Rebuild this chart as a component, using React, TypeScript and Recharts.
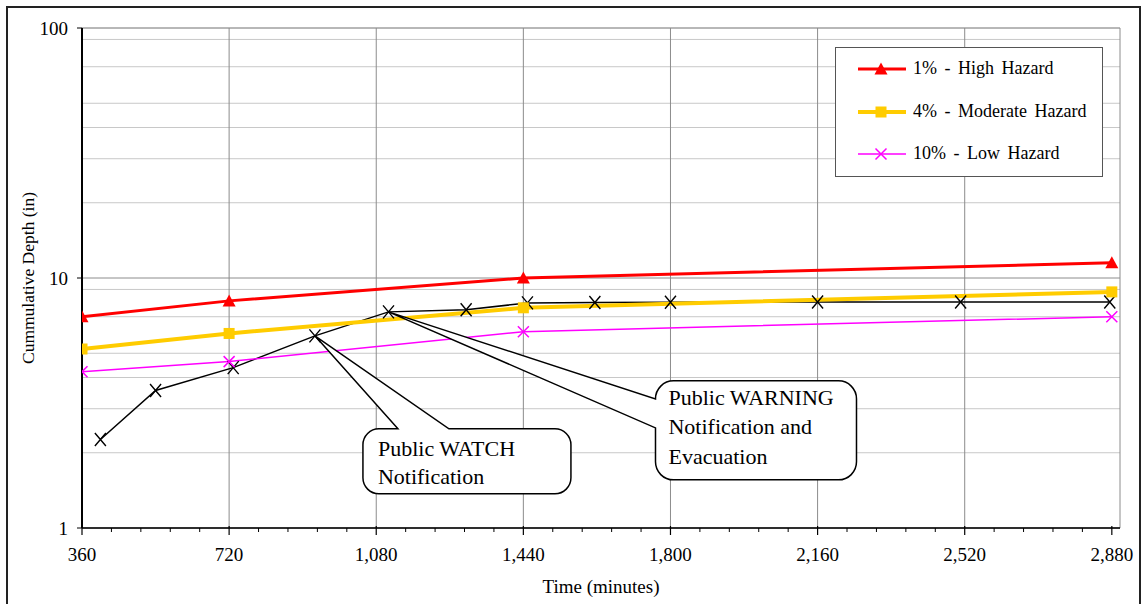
import React from 'react';
import { LineChart, Line, XAxis, YAxis, CartesianGrid, ReferenceDot, Legend } from 'recharts';

// ---- data ----
const hazardTimes = [360, 720, 1440, 2880];
const highHazard = [7.0, 8.1, 10.0, 11.5];
const moderateHazard = [5.2, 6.0, 7.6, 8.8];
const lowHazard = [4.22, 4.63, 6.1, 7.0];

const observedTimes = [405, 540, 730, 930, 1110, 1300, 1450, 1615, 1800, 2160, 2510, 2875];
const observedDepth = [2.26, 3.55, 4.38, 5.87, 7.32, 7.46, 7.95, 7.98, 8.0, 8.02, 8.02, 8.02];

const xMajorTicks = [360, 720, 1080, 1440, 1800, 2160, 2520, 2880];
const xDomainMax = 2900;
const yTicks = [1, 10, 100];
const yMinorGrid = [2, 3, 4, 5, 6, 7, 8, 9, 20, 30, 40, 50, 60, 70, 80, 90];

const seriesNames = ['1% - High Hazard', '4% - Moderate Hazard', '10% - Low Hazard'];
const watchNote = ['Public WATCH', 'Notification'];
const warningNote = ['Public WARNING', 'Notification and', 'Evacuation'];
const watchIndex = 3;
const warningIndex = 4;

const FONT = '"Liberation Serif", "Times New Roman", serif';

const toPoints = (ts: number[], vs: number[]) => ts.map((t, i) => ({ t, v: vs[i] }));
const highData = toPoints(hazardTimes, highHazard);
const modData = toPoints(hazardTimes, moderateHazard);
const lowData = toPoints(hazardTimes, lowHazard);
const obsData = toPoints(observedTimes, observedDepth);

const minorStep = (xMajorTicks[1] - xMajorTicks[0]) / 5;
const xAllTicks: number[] = [];
xMajorTicks.forEach((m, i) => {
  xAllTicks.push(m);
  if (i < xMajorTicks.length - 1) {
    for (let k = 1; k < 5; k++) xAllTicks.push(m + k * minorStep);
  }
});
const gridXTicks = [...xMajorTicks, xDomainMax];

// ---- markers ----
const Triangle = ({ cx, cy, color, s = 6.5 }: any) => (
  <path d={`M${cx},${cy - s} L${cx + s},${cy + s - 1} L${cx - s},${cy + s - 1} Z`} fill={color} />
);
const Square = ({ cx, cy, color, s = 5.5 }: any) => (
  <rect x={cx - s} y={cy - s} width={2 * s} height={2 * s} fill={color} />
);
const Cross = ({ cx, cy, color, w = 5, h = 5, sw = 1.5 }: any) => (
  <path
    d={`M${cx - w},${cy - h} L${cx + w},${cy + h} M${cx + w},${cy - h} L${cx - w},${cy + h}`}
    stroke={color}
    strokeWidth={sw}
    fill="none"
  />
);

const legendItems = [
  { name: seriesNames[0], color: '#FF0000', width: 3, marker: 'tri' },
  { name: seriesNames[1], color: '#FFCC00', width: 4, marker: 'sq' },
  { name: seriesNames[2], color: '#FF00FF', width: 1.5, marker: 'x' },
];

const LegendBox = () => (
  <div
    style={{
      width: 268,
      height: 130,
      boxSizing: 'border-box',
      border: '1px solid #555',
      background: '#fff',
      position: 'relative',
      fontFamily: FONT,
      fontSize: 18,
      color: '#000',
    }}
  >
    {legendItems.map((it, i) => (
      <div key={it.name} style={{ position: 'absolute', left: 0, top: 21 + i * 42.5 - 15, height: 30, width: 268 }}>
        <svg width={80} height={30} style={{ position: 'absolute', left: 0, top: 0 }}>
          <line x1={22} x2={70} y1={15} y2={15} stroke={it.color} strokeWidth={it.width} />
          {it.marker === 'tri' && <Triangle cx={45} cy={15} color={it.color} />}
          {it.marker === 'sq' && <Square cx={45} cy={15} color={it.color} />}
          {it.marker === 'x' && <Cross cx={45} cy={15} color={it.color} w={5.5} h={5.5} />}
        </svg>
        <span style={{ position: 'absolute', left: 77, top: 4, whiteSpace: 'pre', wordSpacing: 3 }}>{it.name}</span>
      </div>
    ))}
  </div>
);

// ---- callouts ----
const WatchCallout = ({ cx, cy }: any) => {
  if (cx == null || cy == null) return null;
  const L = cx + 48, R = cx + 256, T = cy + 93, B = cy + 158, r = 16;
  const w1 = cx + 83, w2 = cx + 134;
  const d = `M${L + r},${T} L${w1},${T} L${cx},${cy} L${w2},${T} L${R - r},${T} A${r},${r} 0 0 1 ${R},${T + r} L${R},${B - r} A${r},${r} 0 0 1 ${R - r},${B} L${L + r},${B} A${r},${r} 0 0 1 ${L},${B - r} L${L},${T + r} A${r},${r} 0 0 1 ${L + r},${T} Z`;
  return (
    <g>
      <path d={d} fill="#fff" stroke="#000" strokeWidth={1.5} />
      {watchNote.map((s, i) => (
        <text key={i} x={cx + 63} y={cy + 120 + i * 28} fontFamily={FONT} fontSize={22} fill="#000">
          {s}
        </text>
      ))}
    </g>
  );
};

const WarningCallout = ({ cx, cy }: any) => {
  if (cx == null || cy == null) return null;
  const L = cx + 267, R = cx + 468, T = cy + 69, B = cy + 168, r = 18;
  const w1 = cy + 87, w2 = cy + 116;
  const d = `M${L + r},${T} L${R - r},${T} A${r},${r} 0 0 1 ${R},${T + r} L${R},${B - r} A${r},${r} 0 0 1 ${R - r},${B} L${L + r},${B} A${r},${r} 0 0 1 ${L},${B - r} L${L},${w2} L${cx},${cy} L${L},${w1} L${L},${T + r} A${r},${r} 0 0 1 ${L + r},${T} Z`;
  return (
    <g>
      <path d={d} fill="#fff" stroke="#000" strokeWidth={1.5} />
      {warningNote.map((s, i) => (
        <text key={i} x={cx + 280} y={cy + 93 + i * 29.5} fontFamily={FONT} fontSize={22} fill="#000">
          {s}
        </text>
      ))}
    </g>
  );
};

// ---- axis ticks ----
const XTick = ({ x, y, payload }: any) => {
  const v = payload.value;
  const major = xMajorTicks.includes(v);
  return (
    <g>
      {major ? (
        <line x1={x} x2={x} y1={y - 2} y2={y + 7} stroke="#000" strokeWidth={1.2} />
      ) : (
        <line x1={x} x2={x} y1={y} y2={y + 4} stroke="#000" strokeWidth={1} />
      )}
      {major && (
        <text x={x} y={y + 33} textAnchor="middle" fontFamily={FONT} fontSize={19} fill="#000">
          {v.toLocaleString('en-US')}
        </text>
      )}
    </g>
  );
};

export default function App() {
  return (
    <div
      style={{
        position: 'absolute',
        left: 6,
        top: 6,
        width: 1135,
        height: 600,
        boxSizing: 'border-box',
        border: '2px solid #222',
        background: '#fff',
      }}
    >
      <LineChart width={1131} height={596} margin={{ top: 20, right: 19, bottom: 0, left: 0 }}>
        <XAxis xAxisId="grid" dataKey="t" type="number" domain={[xMajorTicks[0], xDomainMax]} ticks={gridXTicks} hide allowDataOverflow />
        <YAxis yAxisId="minor" type="number" scale="log" domain={[yTicks[0], yTicks[yTicks.length - 1]]} ticks={yMinorGrid} hide allowDataOverflow />
        <CartesianGrid xAxisId="grid" yAxisId="minor" horizontal={true} vertical={false} stroke="#c8c8c8" strokeWidth={1} />
        <CartesianGrid xAxisId="grid" yAxisId={0} horizontal={true} vertical={true} stroke="#8c8c8c" strokeWidth={1} />
        <XAxis
          dataKey="t"
          type="number"
          domain={[xMajorTicks[0], xDomainMax]}
          ticks={xAllTicks}
          interval={0}
          allowDataOverflow
          height={76}
          tickSize={0}
          tickMargin={0}
          tickLine={false}
          tick={<XTick />}
          axisLine={{ stroke: '#000', strokeWidth: 1.5 }}
          label={{ value: 'Time (minutes)', position: 'insideBottom', offset: 11, fontFamily: FONT, fontSize: 19, fill: '#000' }}
        />
        <YAxis
          type="number"
          scale="log"
          domain={[yTicks[0], yTicks[yTicks.length - 1]]}
          ticks={yTicks}
          allowDataOverflow
          width={74}
          tickSize={5}
          tickMargin={9}
          tickLine={{ stroke: '#000' }}
          axisLine={{ stroke: '#000', strokeWidth: 2 }}
          tick={{ fontFamily: FONT, fontSize: 19, fill: '#000' }}
          label={{
            value: 'Cummulative Depth (in)',
            angle: -90,
            position: 'insideLeft',
            offset: 20,
            style: { textAnchor: 'middle', fontFamily: FONT, fontSize: 17.5, fill: '#000' },
          }}
        />
        <Legend
          layout="horizontal"
          verticalAlign="middle"
          align="center"
          wrapperStyle={{ position: 'absolute', left: 827, top: 39, width: 268, height: 130 }}
          content={() => <LegendBox />}
        />
        <Line
          data={obsData}
          dataKey="v"
          name="Observed"
          stroke="#000"
          strokeWidth={1.5}
          isAnimationActive={false}
          legendType="none"
          dot={(p: any) => <Cross key={`o${p.index}`} cx={p.cx} cy={p.cy} color="#000" w={5.5} h={6.5} sw={1.4} />}
        />
        <Line
          data={lowData}
          dataKey="v"
          name={seriesNames[2]}
          stroke="#FF00FF"
          strokeWidth={1.5}
          isAnimationActive={false}
          dot={(p: any) => <Cross key={`l${p.index}`} cx={p.cx} cy={p.cy} color="#FF00FF" w={5.5} h={5.5} />}
        />
        <Line
          data={modData}
          dataKey="v"
          name={seriesNames[1]}
          stroke="#FFCC00"
          strokeWidth={4}
          isAnimationActive={false}
          dot={(p: any) => <Square key={`m${p.index}`} cx={p.cx} cy={p.cy} color="#FFCC00" />}
        />
        <Line
          data={highData}
          dataKey="v"
          name={seriesNames[0]}
          stroke="#FF0000"
          strokeWidth={3}
          isAnimationActive={false}
          dot={(p: any) => <Triangle key={`h${p.index}`} cx={p.cx} cy={p.cy} color="#FF0000" />}
        />
        <ReferenceDot
          x={observedTimes[watchIndex]}
          y={observedDepth[watchIndex]}
          r={0}
          shape={(p: any) => <WatchCallout cx={p.cx} cy={p.cy} />}
        />
        <ReferenceDot
          x={observedTimes[warningIndex]}
          y={observedDepth[warningIndex]}
          r={0}
          shape={(p: any) => <WarningCallout cx={p.cx} cy={p.cy} />}
        />
      </LineChart>
    </div>
  );
}
